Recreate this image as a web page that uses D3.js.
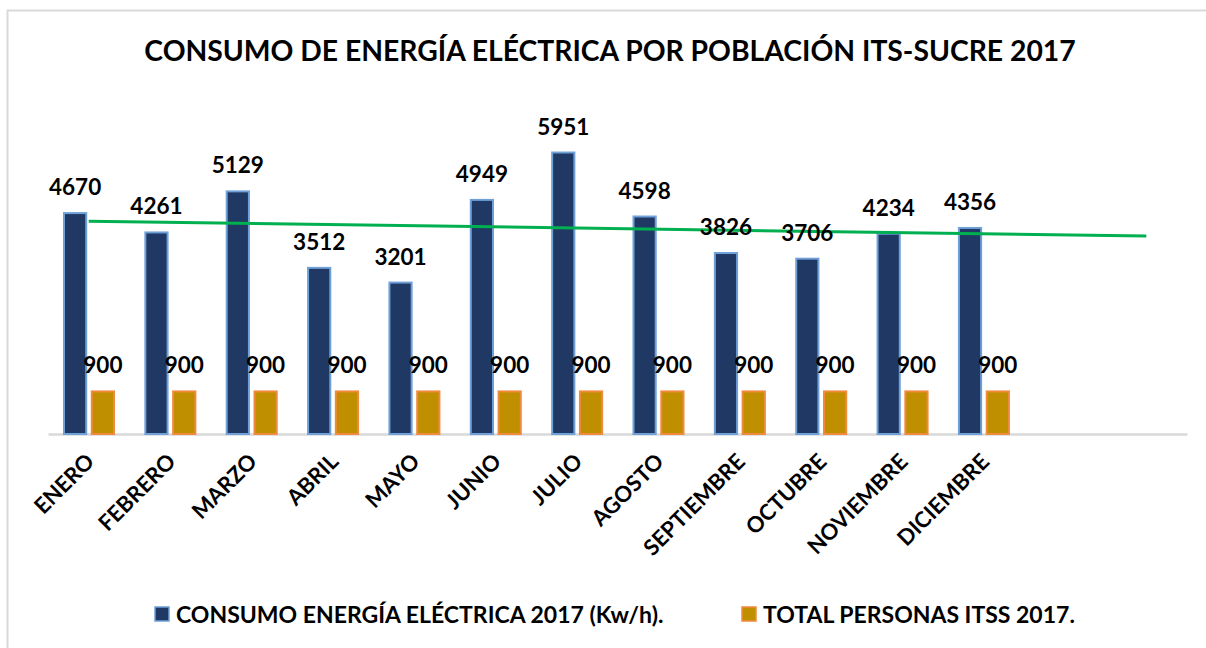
<!DOCTYPE html>
<html>
<head>
<meta charset="utf-8">
<script src="https://cdn.jsdelivr.net/npm/d3@7"></script>
<style>
  body { margin: 0; background: #fff; }
  text { font-family: Lato, "Open Sans", sans-serif; font-weight: bold; fill: #000; }
</style>
</head>
<body>
<div class="canva"></div>
<script>
// data
const meses = ['ENERO', 'FEBRERO', 'MARZO', 'ABRIL', 'MAYO', 'JUNIO', 'JULIO',
    'AGOSTO', 'SEPTIEMBRE', 'OCTUBRE', 'NOVIEMBRE', 'DICIEMBRE'];
const consumo = [4670, 4261, 5129, 3512, 3201, 4949, 5951, 4598, 3826, 3706, 4234, 4356];
const personas = [900, 900, 900, 900, 900, 900, 900, 900, 900, 900, 900, 900];
const series = ['CONSUMO ENERGÍA ELÉCTRICA 2017 (Kw/h).', 'TOTAL PERSONAS ITSS 2017.'];
const slots = 14; // category axis leaves two empty slots on the right

const width = 1206, height = 648;
const margin = {top: 10, left: 48, right: 19, baseline: 434};

const svg = d3.select('.canva').append('svg')
    .attr('width', width)
    .attr('height', height);

// chart frame
svg.append('rect')
    .attr('x', 7.5).attr('y', 10.5)
    .attr('width', 1230).attr('height', 700)
    .attr('fill', 'none')
    .attr('stroke', '#d9d9d9')
    .attr('stroke-width', 2);

svg.append('text')
    .attr('x', 610).attr('y', 61)
    .attr('text-anchor', 'middle')
    .style('font-size', '28.3px')
    .text('CONSUMO DE ENERGÍA ELÉCTRICA POR POBLACIÓN ITS-SUCRE 2017');

// scales
const x = d3.scaleBand()
    .domain(d3.range(slots))
    .range([margin.left, width - margin.right]);

const x1 = d3.scaleBand()
    .domain([0, 1])
    .range([16, 66])
    .paddingInner(0.2);

const y = d3.scaleLinear()
    .domain([0, 5951])
    .range([margin.baseline, 152.5]);

// x axis
const xAxis = d3.axisBottom(x)
    .tickSize(0)
    .tickSizeOuter(0)
    .tickFormat(i => meses[i] || '');

const gx = svg.append('g')
    .attr('transform', `translate(0, ${margin.baseline})`)
    .call(xAxis);

gx.select('.domain').attr('stroke', '#d9d9d9').attr('stroke-width', 2.5);
gx.selectAll('.tick text')
    .attr('text-anchor', 'end')
    .attr('dy', null)
    .attr('y', 0)
    .attr('transform', 'translate(7, 29) rotate(-45)')
    .style('font-size', '22px');

// bars
const grupos = svg.append('g');

grupos.selectAll('rect.consumo')
    .data(consumo)
    .enter().append('rect')
    .attr('class', 'consumo')
    .attr('x', (d, i) => x(i) + x1(0))
    .attr('y', d => y(d))
    .attr('width', x1.bandwidth())
    .attr('height', d => y(0) - y(d))
    .attr('fill', '#203864')
    .attr('stroke', '#6fa0d8')
    .attr('stroke-width', 2);

grupos.selectAll('rect.personas')
    .data(personas)
    .enter().append('rect')
    .attr('class', 'personas')
    .attr('x', (d, i) => x(i) + x1(1))
    .attr('y', d => y(d))
    .attr('width', x1.bandwidth())
    .attr('height', d => y(0) - y(d))
    .attr('fill', '#bf8f00')
    .attr('stroke', '#f08a3c')
    .attr('stroke-width', 2);

// linear trend of consumo
const n = consumo.length;
const mx = d3.mean(d3.range(n));
const my = d3.mean(consumo);
const slope = d3.sum(consumo, (v, i) => (i - mx) * (v - my)) /
    d3.sum(d3.range(n), i => (i - mx) * (i - mx));
const trend = i => my + slope * (i - mx);
const cx = i => x(i) + x.bandwidth() / 2;

svg.append('line')
    .attr('x1', cx(0)).attr('y1', y(trend(0)))
    .attr('x2', cx(slots - 1)).attr('y2', y(trend(slots - 1)))
    .attr('stroke', '#00b050')
    .attr('stroke-width', 3);

// value labels
svg.selectAll('text.lab-c')
    .data(consumo)
    .enter().append('text')
    .attr('class', 'lab-c')
    .attr('x', (d, i) => x(i) + x1(0) + x1.bandwidth() / 2)
    .attr('y', d => y(d) - 18)
    .attr('text-anchor', 'middle')
    .style('font-size', '22.5px')
    .text(d => d);

svg.selectAll('text.lab-p')
    .data(personas)
    .enter().append('text')
    .attr('class', 'lab-p')
    .attr('x', (d, i) => x(i) + x1(1) + x1.bandwidth() / 2)
    .attr('y', d => y(d) - 18)
    .attr('text-anchor', 'middle')
    .style('font-size', '22.5px')
    .text(d => d);

// legend
const legend = [
    {name: series[0], fill: '#203864', stroke: '#6fa0d8', x: 155},
    {name: series[1], fill: '#bf8f00', stroke: '#f08a3c', x: 742}
];

const lg = svg.selectAll('g.legend')
    .data(legend)
    .enter().append('g')
    .attr('transform', d => `translate(${d.x}, 607)`);

lg.append('rect')
    .attr('width', 14).attr('height', 14)
    .attr('fill', d => d.fill)
    .attr('stroke', d => d.stroke)
    .attr('stroke-width', 1.5);

lg.append('text')
    .attr('x', 21).attr('y', 15.5)
    .style('font-size', '23px')
    .text(d => d.name);
</script>
</body>
</html>
